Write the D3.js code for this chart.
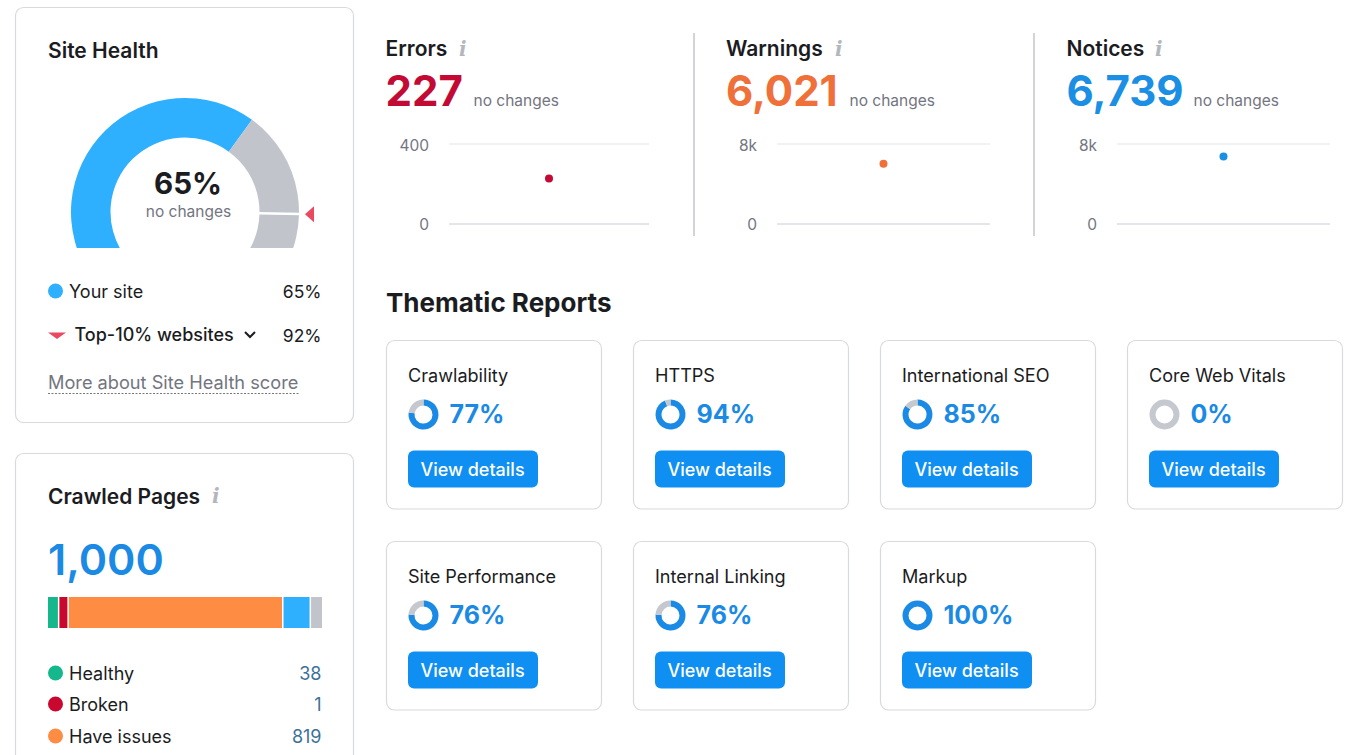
<!DOCTYPE html>
<html>
<head>
<meta charset="utf-8">
<script src="https://cdn.jsdelivr.net/npm/d3@7"></script>
<style>
  body { margin: 0; background: #fff; }
  svg { display: block; }
  text { font-family: Inter, "Noto Sans", sans-serif; }
  .info { font-family: "DejaVu Serif", serif; font-style: italic; font-weight: 700; font-size: 20px; fill: #b4b6bd; }
</style>
</head>
<body>
<svg id="chart" width="1345" height="755"></svg>
<script>
// Site Health gauge
var siteHealth = 65;
var topTenHealth = 92;
var gaugeMax = 100;

// Issue summaries
var issueNames = ["Errors", "Warnings", "Notices"];
var issueValues = [227, 6021, 6739];
var issueMax = [400, 8000, 8000];
var issueColors = ["#c20a35", "#f0703a", "#1a8fe3"];

// Crawled pages (the last two rows are cut off in the picture, values estimated from the bar)
var pagesTotal = 1000;
var pageNames = ["Healthy", "Broken", "Have issues", "Redirects", "Blocked"];
var pageValues = [38, 1, 819, 100, 42];
var pageColors = ["#14b88c", "#c8082f", "#ff8c43", "#2fb0ff", "#c2c4cc"];

// Thematic reports
var reportNames = ["Crawlability", "HTTPS", "International SEO", "Core Web Vitals", "Site Performance", "Internal Linking", "Markup"];
var reportValues = [77, 94, 85, 0, 76, 76, 100];

var svg = d3.select("#chart");
var fmt = d3.format(",");
var ink = "#1b1c22";
var grey = "#73757f";
var blue = "#1a8ae5";

function card(x, y, w, h) {
  svg.append("rect")
    .attr("x", x).attr("y", y).attr("width", w).attr("height", h).attr("rx", 8)
    .attr("fill", "#fff").attr("stroke", "#d9dadd").attr("stroke-width", 1.2);
}

function label(x, y, str, size, weight, color, anchor) {
  return svg.append("text")
    .attr("x", x).attr("y", y).text(str)
    .attr("font-size", size).attr("font-weight", weight)
    .attr("fill", color).attr("text-anchor", anchor || "start");
}

function info(x, y) {
  svg.append("text").attr("class", "info").attr("x", x).attr("y", y).text("i");
}

function dot(x, y, color) {
  svg.append("circle").attr("cx", x).attr("cy", y).attr("r", 7.5).attr("fill", color);
}

//--- Site Health card ---
card(15.5, 7.5, 338, 415);
label(48, 57.5, "Site Health", 21, 600, ink);

// non linear on purpose: the gauge runs past the clip at the bottom
var gaugeAngle = d3.scaleLinear()
  .domain([0, siteHealth, topTenHealth, gaugeMax])
  .range([-125, 36, 91, 125].map(d => d * Math.PI / 180));

var gaugeX = 185, gaugeY = 212, gaugeOuter = 114, gaugeInner = 74.5;
var gaugeArc = d3.arc().innerRadius(gaugeInner).outerRadius(gaugeOuter);

svg.append("clipPath").attr("id", "gaugeClip")
  .append("rect").attr("x", 0).attr("y", 0).attr("width", 354).attr("height", 248);

var gauge = svg.append("g")
  .attr("clip-path", "url(#gaugeClip)")
  .append("g")
  .attr("transform", `translate(${gaugeX},${gaugeY})`);

gauge.append("path")
  .attr("d", gaugeArc({startAngle: gaugeAngle(0), endAngle: gaugeAngle(siteHealth)}))
  .attr("fill", "#2fb0ff");
gauge.append("path")
  .attr("d", gaugeArc({startAngle: gaugeAngle(siteHealth), endAngle: gaugeAngle(gaugeMax)}))
  .attr("fill", "#c2c4cc");

// white tick + red marker for the top 10% score
var topAngle = gaugeAngle(topTenHealth);
var polar = (r, a) => [r * Math.sin(a), -r * Math.cos(a)];
var tickFrom = polar(gaugeInner - 1, topAngle), tickTo = polar(gaugeOuter + 1, topAngle);
gauge.append("line")
  .attr("x1", tickFrom[0]).attr("y1", tickFrom[1])
  .attr("x2", tickTo[0]).attr("y2", tickTo[1])
  .attr("stroke", "#fff").attr("stroke-width", 2.5);

var markerPos = polar(124.5, topAngle);
svg.append("path")
  .attr("transform", `translate(${gaugeX + markerPos[0]},${gaugeY + markerPos[1]})`)
  .attr("d", "M-4.5,0L4.5,-8L4.5,8Z")
  .attr("fill", "#ea4a5f");

label(188, 194, siteHealth + "%", 29.5, 700, ink, "middle");
label(188.5, 217, "no changes", 15.5, 400, grey, "middle");

dot(55.5, 291, "#2fb0ff");
label(69, 297.5, "Your site", 18, 400, ink);
label(321.5, 297.5, siteHealth + "%", 17.5, 400, ink, "end");

svg.append("path").attr("d", "M48,332.5L66,332.5L57,339Z").attr("fill", "#ea4a5f");
label(74.5, 341, "Top-10% websites", 18, 500, ink);
svg.append("path").attr("d", "M245,332L250,337L255,332")
  .attr("fill", "none").attr("stroke", ink).attr("stroke-width", 2);
label(321.5, 341.5, topTenHealth + "%", 17.5, 400, ink, "end");

label(48, 389, "More about Site Health score", 18.2, 400, grey);
svg.append("line")
  .attr("x1", 48).attr("x2", 300).attr("y1", 393.5).attr("y2", 393.5)
  .attr("stroke", "#777").attr("stroke-dasharray", "2 1.5");

//--- Crawled Pages card (runs off the bottom of the picture) ---
card(15.5, 453.5, 338, 360);
label(48, 504, "Crawled Pages", 21, 600, ink);
info(212, 503);
label(48, 575, fmt(pagesTotal), 43, 600, blue);

// broken gets a minimum width, the rest share what is left
var pageMinWidth = 8, pageGap = 1.5;
var pageWidth = d3.scaleLinear()
  .domain([0, d3.sum(pageValues) - pageValues[1]])
  .range([0, 274 - pageMinWidth - pageGap * (pageValues.length - 1)]);

var pageX = 48;
pageValues.forEach((v, i) => {
  var w = Math.max(pageMinWidth * (v < 10), pageWidth(v));
  svg.append("rect")
    .attr("x", pageX).attr("y", 597).attr("width", w).attr("height", 31)
    .attr("fill", pageColors[i]);
  pageX += w + pageGap;
});

var pageRowY = [673, 704, 736];
pageRowY.forEach((y, i) => {
  dot(55.5, y, pageColors[i]);
  label(69, y + 6.5, pageNames[i], 18, 400, ink);
  label(321.5, y + 6.5, fmt(pageValues[i]), 18, 400, "#3c7298", "end");
});

//--- Errors / Warnings / Notices ---
var issueLeft = [385.5, 726, 1066.5];
var plotLeft = [449, 777, 1117];
var plotRight = [649, 990, 1330];
var changeX = [473.5, 849.5, 1193.5];
var infoX = [459, 835, 1155];

issueNames.forEach((name, i) => {
  label(issueLeft[i], 56, name, 21, 600, ink);
  info(infoX[i], 56);
  label(issueLeft[i], 106, fmt(issueValues[i]), 42, 700, issueColors[i]);
  label(changeX[i], 106, "no changes", 15.5, 400, grey);

  var y = d3.scaleLinear().domain([0, issueMax[i]]).range([224, 144]);
  var x = d3.scalePoint().domain(["now"]).range([plotLeft[i], plotRight[i]]).padding(0.5);

  var axis = d3.axisLeft(y)
    .tickValues([0, issueMax[i]])
    .tickSize(-(plotRight[i] - plotLeft[i]))
    .tickPadding(20)
    .offset(0)
    .tickFormat(v => v >= 1000 ? v / 1000 + "k" : v);

  var g = svg.append("g").attr("transform", `translate(${plotLeft[i]},0)`).call(axis);
  g.select(".domain").remove();
  g.selectAll(".tick line").attr("stroke", v => v === 0 ? "#c9ccd6" : "#e4e5e8");
  g.selectAll(".tick text")
    .attr("font-size", 15.5).attr("fill", grey)
    .attr("dy", v => v === 0 ? "0.4em" : "0.42em")
    .style("font-family", "Inter");

  svg.append("circle")
    .attr("cx", x("now")).attr("cy", y(issueValues[i])).attr("r", 4)
    .attr("fill", issueColors[i]);
});

var dividerX = [694, 1034];
dividerX.forEach(x => {
  svg.append("line").attr("x1", x).attr("x2", x).attr("y1", 33).attr("y2", 236)
    .attr("stroke", "#c4c6cb").attr("stroke-width", 1.5);
});

//--- Thematic Reports ---
label(386, 312, "Thematic Reports", 26, 700, ink);

var reportX = [386, 633, 880, 1127];
var reportY = [340.5, 541.5];
var ringArc = d3.arc().innerRadius(9).outerRadius(15);
var ringPie = d3.pie().sort(null);

reportNames.forEach((name, i) => {
  var x = reportX[i % 4] + 0.5, y = reportY[Math.floor(i / 4)];
  card(x, y, 215, 168.5);
  label(x + 21.5, y + 41.5, name, 18.1, 400, ink);

  var ring = svg.append("g").attr("transform", `translate(${x + 37},${y + 74})`);
  ring.selectAll("path")
    .data(ringPie([reportValues[i], 100 - reportValues[i]]))
    .enter().append("path")
    .attr("d", ringArc)
    .attr("fill", (d, j) => j === 0 ? blue : "#c6c8cf");

  label(x + 63, y + 82, reportValues[i] + "%", 25, 700, blue);

  svg.append("rect")
    .attr("x", x + 21.5).attr("y", y + 110).attr("width", 130).attr("height", 37).attr("rx", 6)
    .attr("fill", "#0f8ff2");
  label(x + 86, y + 135, "View details", 18, 500, "#fff", "middle");
});
</script>
</body>
</html>
